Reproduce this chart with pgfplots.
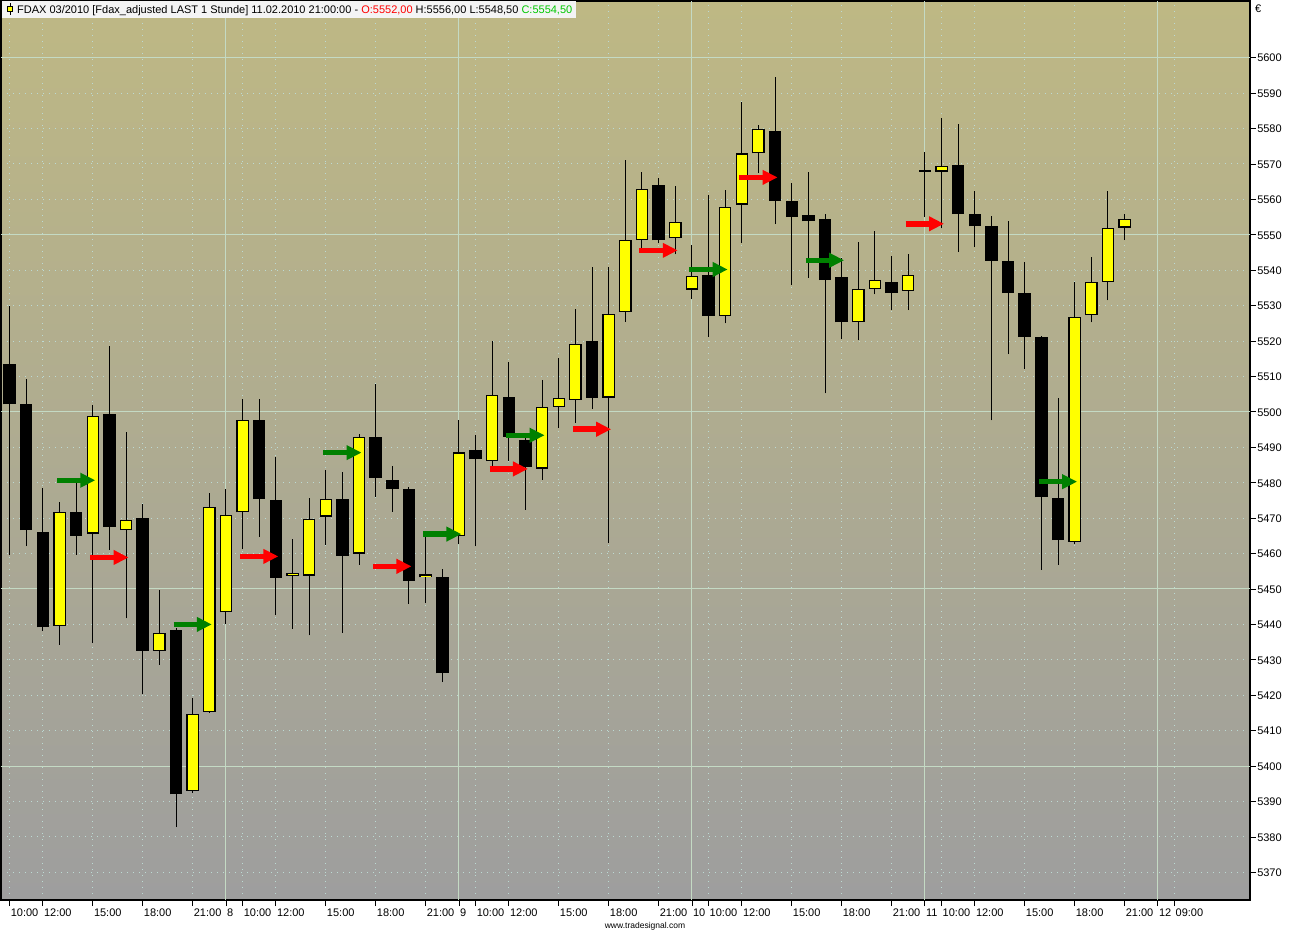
\documentclass[border=0pt]{standalone}
\usepackage{fontspec}
\setmainfont{Liberation Sans}
\usepackage{pgfplots}
\pgfplotsset{compat=1.18}
\usepackage{pgfplotstable}
\usetikzlibrary{arrows.meta}

\definecolor{bgtop}{RGB}{190,184,132}
\definecolor{bgbot}{RGB}{158,158,158}
\definecolor{gridsolid}{RGB}{196,218,196}
\definecolor{griddot}{RGB}{188,218,212}
\definecolor{candleyellow}{RGB}{255,255,0}
\definecolor{arrgreen}{RGB}{0,128,0}
\definecolor{arrred}{RGB}{255,0,0}
\definecolor{titlegreen}{RGB}{0,200,0}
\definecolor{titlebg}{RGB}{244,244,244}

\newcommand\lbl{\fontsize{11pt}{13pt}\selectfont}

% hourly candles, index 0 = 10:00 of the first day
\pgfplotstableread{
i O H L C
0 5513.6 5530.0 5459.7 5502.1
1 5502.2 5509.2 5462.1 5466.6
2 5466.1 5478.4 5438.2 5439.2
4 5471.7 5480.0 5459.6 5465.0
6 5499.4 5518.6 5461.1 5467.5
8 5470.1 5474.0 5420.3 5432.5
10 5438.3 5438.9 5382.8 5392.0
15 5497.7 5503.5 5464.7 5475.4
16 5475.0 5487.4 5442.8 5453.2
20 5475.5 5482.9 5437.7 5459.4
22 5493.0 5508.0 5476.0 5481.3
23 5480.9 5484.6 5471.8 5478.2
24 5478.3 5478.9 5445.9 5452.3
26 5453.4 5455.7 5423.7 5426.2
28 5489.3 5493.6 5462.0 5486.6
30 5504.3 5514.0 5486.0 5493.0
31 5492.0 5493.5 5472.4 5484.4
35 5519.9 5540.8 5500.9 5504.0
39 5564.0 5565.9 5547.6 5548.4
42 5538.6 5561.1 5521.2 5527.0
46 5579.3 5594.6 5553.0 5559.6
47 5559.6 5564.5 5535.8 5555.0
48 5555.7 5567.7 5537.8 5553.8
49 5554.5 5555.9 5505.2 5537.2
50 5538.2 5543.5 5520.7 5525.3
53 5536.7 5543.9 5528.7 5533.5
55 5568.2 5573.3 5555.0 5567.8
57 5569.6 5581.2 5545.1 5555.8
58 5556.0 5562.4 5546.5 5552.4
59 5552.6 5555.2 5497.6 5542.6
60 5542.7 5553.8 5516.3 5533.5
61 5533.7 5542.2 5512.2 5521.1
62 5521.0 5521.5 5455.4 5475.9
63 5475.6 5504.0 5456.8 5463.8
}\bear

\pgfplotstableread{
i O H L C
3 5439.6 5474.7 5434.3 5471.7
5 5465.6 5501.9 5434.8 5498.8
7 5466.6 5494.4 5441.7 5469.5
9 5432.5 5449.8 5428.6 5437.7
11 5393.0 5419.3 5392.5 5414.8
12 5415.3 5477.2 5415.0 5473.1
13 5443.4 5478.1 5440.2 5471.0
14 5471.6 5503.5 5461.4 5497.7
17 5453.7 5464.1 5438.8 5454.5
18 5453.8 5475.6 5436.9 5469.9
19 5470.4 5483.5 5462.5 5475.5
21 5460.0 5493.8 5456.8 5493.0
25 5453.3 5464.9 5446.0 5454.1
27 5464.9 5497.7 5462.6 5488.6
29 5486.1 5519.9 5484.8 5504.9
32 5484.0 5509.0 5480.8 5501.5
33 5501.4 5515.2 5495.5 5504.0
34 5503.4 5529.0 5496.9 5519.3
36 5504.0 5540.8 5463.0 5527.6
37 5528.2 5571.0 5525.4 5548.5
38 5548.5 5567.7 5546.0 5563.0
40 5549.0 5563.7 5544.5 5553.6
41 5534.5 5547.0 5531.8 5538.5
43 5527.0 5562.5 5525.0 5557.9
44 5558.5 5587.4 5547.8 5573.0
45 5573.0 5581.1 5567.4 5579.9
51 5525.3 5548.1 5520.2 5534.7
52 5534.7 5551.2 5533.2 5537.3
54 5534.2 5544.7 5528.7 5538.7
56 5567.8 5583.1 5551.8 5569.5
64 5463.3 5536.7 5462.7 5526.8
65 5527.3 5543.8 5525.3 5536.7
66 5536.7 5562.4 5531.5 5551.9
67 5552.0 5556.0 5548.5 5554.5
}\bull

\pgfplotsset{candle/.style={forget plot, draw=none, no markers,
  error bars/.cd, y dir=plus, y explicit, error mark=none}}

\begin{document}
\begin{tikzpicture}
\path[use as bounding box] (0pt,0pt) rectangle (1292pt,932pt);
\begin{axis}[
  at={(1pt,32pt)}, anchor=south west,
  width=1249pt, height=899pt, scale only axis,
  xmin=-0.517, xmax=74.54, ymin=5362.2, ymax=5616,
  axis background/.style={top color=bgtop, bottom color=bgbot},
  axis line style={black, line width=1.5pt},
  tick align=outside,
  major tick length=6pt,
  tick style={black, line width=0.8pt},
  xtick pos=left, ytick pos=right, yticklabel pos=right,
  xtick={0,2,5,8,11,13,14,16,19,22,25,27,28,30,33,36,39,41,42,44,47,50,53,55,56,58,61,64,67,69,70},
  xticklabels={10:00,12:00,15:00,18:00,21:00,8,10:00,12:00,15:00,18:00,21:00,9,10:00,12:00,15:00,18:00,21:00,10,10:00,12:00,15:00,18:00,21:00,11,10:00,12:00,15:00,18:00,21:00,12,09:00},
  ytick={5370,5380,...,5600},
  grid=major,
  major grid style={griddot, dash pattern=on 1pt off 5pt, line width=1pt},
  extra y ticks={5400,5450,5500,5550,5600},
  extra y tick labels={},
  extra y tick style={grid=major, major grid style={gridsolid, solid, line width=1pt}, major tick length=0pt},
  extra x ticks={13,27,41,55,69},
  extra x tick labels={},
  extra x tick style={grid=major, major grid style={gridsolid, solid, line width=1pt}, major tick length=0pt},
  xticklabel style={anchor=north west, font=\lbl, inner sep=0pt, xshift=1pt, yshift=-3pt},
  yticklabel style={anchor=west, font=\lbl, inner sep=0pt, xshift=1pt, yshift=-0.5pt},
  /pgf/number format/1000 sep={},
  /pgf/number format/assume math mode=true,
]
% wicks
\addplot[candle, error bar style={draw=black, line width=1pt}]
  table[x=i, y=L, y error expr=\thisrow{H}-\thisrow{L}] {\bear};
\addplot[candle, error bar style={draw=black, line width=1pt}]
  table[x=i, y=L, y error expr=\thisrow{H}-\thisrow{L}] {\bull};
% bearish bodies
\addplot[candle, error bar style={draw=black, line width=12.5pt}]
  table[x=i, y=C, y error expr=\thisrow{O}-\thisrow{C}] {\bear};
% bullish bodies: outline then fill
\addplot[candle, error bar style={draw=black, line width=12.5pt}]
  table[x=i, y=O, y error expr=\thisrow{C}-\thisrow{O}] {\bull};
\addplot[candle, error bar style={draw=candleyellow, line width=10pt}]
  table[x=i, y expr=\thisrow{O}+0.35, y error expr=\thisrow{C}-\thisrow{O}-0.7] {\bull};
% signal arrows
\addplot[forget plot, mark=none, draw=arrgreen, line width=5.5pt,
  -{Triangle[length=15pt 0 0, width=14pt 0 0]}, quiver={u=2.3, v=0}]
  coordinates {(2.85,5480.7) (9.85,5440.0) (18.85,5488.5) (24.85,5465.5) (29.85,5493.4) (40.85,5540.2) (47.85,5542.8) (61.85,5480.3)};
\addplot[forget plot, mark=none, draw=arrred, line width=5.5pt,
  -{Triangle[length=15pt 0 0, width=14pt 0 0]}, quiver={u=2.3, v=0}]
  coordinates {(4.85,5458.9) (13.85,5459.2) (21.85,5456.4) (28.85,5483.9) (33.85,5495.1) (37.85,5545.6) (43.85,5566.2) (53.85,5553.1)};
\end{axis}
% title strip
\fill[titlebg] (1.5pt,914pt) rectangle (576pt,930.5pt);
\draw[black, line width=0.8pt] (10pt,917pt) -- (10pt,929pt);
\filldraw[fill=candleyellow, draw=black, line width=0.8pt] (7.8pt,920.5pt) rectangle (12.2pt,926pt);
\node[anchor=base west, inner sep=0pt, font=\lbl] at (17pt,918.5pt)
  {FDAX 03/2010 [Fdax\_adjusted LAST 1 Stunde] 11.02.2010 21:00:00 - \textcolor{arrred}{O:5552,00} H:5556,00 L:5548,50 \textcolor{titlegreen}{C:5554,50}};
\node[anchor=base west, inner sep=0pt, font=\fontsize{11pt}{12pt}\selectfont] at (1255pt,919pt) {€};
\node[anchor=base, inner sep=0pt, font=\fontsize{8.5pt}{10pt}\selectfont] at (645pt,3.5pt) {www.tradesignal.com};
\end{tikzpicture}
\end{document}
